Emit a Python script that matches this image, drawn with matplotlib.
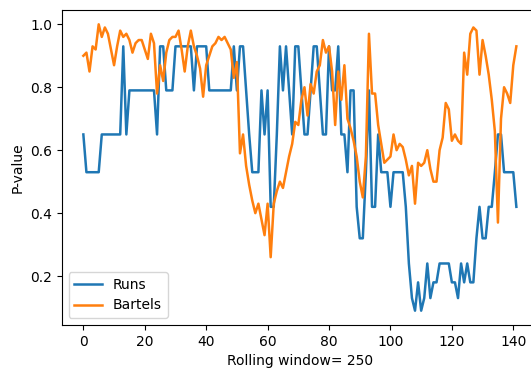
import numpy as np
import matplotlib
matplotlib.use("Agg")
import matplotlib.pyplot as plt

# p-values of the two randomness tests over a rolling window of 250
runs = [
    0.65, 0.53, 0.53, 0.53, 0.53, 0.53, 0.65, 0.65, 0.65, 0.65,
    0.65, 0.65, 0.65, 0.93, 0.65, 0.79, 0.79, 0.79, 0.79, 0.79,
    0.79, 0.79, 0.79, 0.79, 0.65, 0.93, 0.93, 0.79, 0.79, 0.79,
    0.93, 0.93, 0.93, 0.93, 0.93, 0.93, 0.79, 0.93, 0.93, 0.93,
    0.93, 0.79, 0.79, 0.79, 0.79, 0.79, 0.79, 0.79, 0.79, 0.93,
    0.79, 0.93, 0.93, 0.79, 0.65, 0.53, 0.53, 0.53, 0.79, 0.65,
    0.79, 0.42, 0.42, 0.65, 0.93, 0.79, 0.93, 0.79, 0.65, 0.93,
    0.93, 0.79, 0.65, 0.65, 0.79, 0.93, 0.93, 0.79, 0.65, 0.65,
    0.93, 0.79, 0.79, 0.93, 0.65, 0.65, 0.53, 0.79, 0.79, 0.42,
    0.32, 0.32, 0.53, 0.79, 0.42, 0.42, 0.65, 0.53, 0.53, 0.53,
    0.42, 0.53, 0.53, 0.53, 0.53, 0.42, 0.24, 0.13, 0.09, 0.18,
    0.09, 0.13, 0.24, 0.13, 0.18, 0.18, 0.24, 0.24, 0.24, 0.24,
    0.18, 0.18, 0.13, 0.24, 0.18, 0.24, 0.18, 0.18, 0.32, 0.42,
    0.32, 0.32, 0.42, 0.42, 0.53, 0.65, 0.65, 0.53, 0.53, 0.53,
    0.53, 0.42,
]

bartels = [
    0.90, 0.91, 0.85, 0.93, 0.92, 1.00, 0.96, 0.99, 0.97, 0.92,
    0.87, 0.93, 0.98, 0.96, 0.97, 0.95, 0.91, 0.94, 0.95, 0.95,
    0.92, 0.89, 0.97, 0.94, 0.78, 0.87, 0.82, 0.91, 0.95, 0.96,
    0.96, 0.98, 0.92, 0.85, 0.93, 0.98, 0.93, 0.90, 0.86, 0.77,
    0.87, 0.90, 0.93, 0.94, 0.96, 0.95, 0.96, 0.94, 0.92, 0.83,
    0.88, 0.59, 0.65, 0.55, 0.49, 0.44, 0.40, 0.43, 0.38, 0.33,
    0.43, 0.26, 0.43, 0.47, 0.50, 0.48, 0.53, 0.58, 0.62, 0.69,
    0.68, 0.76, 0.80, 0.71, 0.81, 0.78, 0.85, 0.87, 0.95, 0.91,
    0.93, 0.85, 0.68, 0.85, 0.76, 0.87, 0.70, 0.67, 0.63, 0.58,
    0.50, 0.45, 0.58, 0.97, 0.78, 0.78, 0.68, 0.62, 0.56, 0.57,
    0.58, 0.65, 0.60, 0.62, 0.61, 0.57, 0.52, 0.55, 0.43, 0.56,
    0.55, 0.56, 0.60, 0.54, 0.50, 0.50, 0.60, 0.64, 0.75, 0.73,
    0.63, 0.65, 0.63, 0.62, 0.91, 0.84, 0.97, 0.99, 0.98, 0.84,
    0.95, 0.90, 0.84, 0.76, 0.66, 0.37, 0.70, 0.80, 0.78, 0.75,
    0.87, 0.93,
]

window = np.arange(len(runs))

fig = plt.figure(figsize=(5.31, 3.73), dpi=100)
ax = fig.add_axes([0.1162, 0.1287, 0.897, 0.8445])

ax.plot(window, runs, color="tab:blue", lw=1.8, label="Runs")
ax.plot(window, bartels, color="tab:orange", lw=1.8, label="Bartels")

ax.set_xticks([0, 20, 40, 60, 80, 100, 120, 140])
ax.set_yticks([0.2, 0.4, 0.6, 0.8, 1.0])
ax.set_xlabel("Rolling window= 250")
ax.set_ylabel("P-value")
ax.legend(loc="lower left")

fig.savefig("out.png", dpi=100)
